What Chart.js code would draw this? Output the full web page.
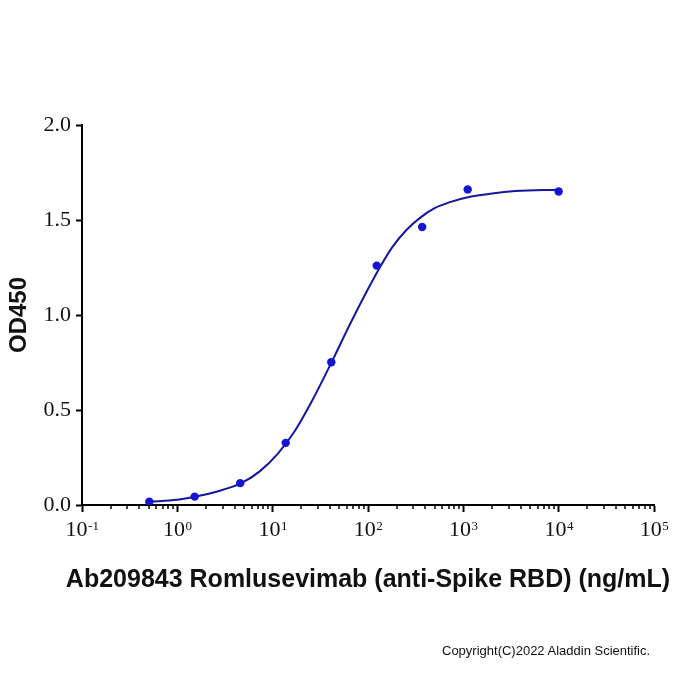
<!DOCTYPE html>
<html>
<head>
<meta charset="utf-8">
<script src="https://cdn.jsdelivr.net/npm/chart.js@4.4.1/dist/chart.umd.min.js"></script>
<style>
  html, body { margin: 0; padding: 0; background: #fff; }
  #wrap { position: relative; width: 700px; height: 700px; }
  #copy {
    position: absolute; left: 442px; top: 643px;
    font: 13px "Liberation Sans", Arial, sans-serif; line-height: 15px; color: #111;
  }
</style>
</head>
<body>
<div id="wrap">
  <canvas id="myChart" width="700" height="700"></canvas>
  <div id="copy">Copyright(C)2022 Aladdin Scientific.</div>
</div>
<script>
// measured points (ng/mL vs OD450)
var concValues = [0.508, 1.52, 4.57, 13.7, 41.2, 123.5, 370, 1111, 10000];
var odValues = [0.017, 0.044, 0.115, 0.327, 0.751, 1.26, 1.463, 1.661, 1.650];

// fitted curve
var curveX = [0.508, 1, 1.52, 2.57, 4.57, 7.31, 11.4, 17, 26, 41.2, 64.5, 96.6, 133, 180, 250, 351, 500, 724, 1175, 2000, 3500, 10000];
var curveY = [0.017, 0.028, 0.043, 0.070, 0.112, 0.177, 0.272, 0.388, 0.550, 0.748, 0.950, 1.122, 1.250, 1.357, 1.445, 1.511, 1.562, 1.594, 1.622, 1.640, 1.652, 1.659];

var xTicks = [0.1, 1, 10, 100, 1000, 10000, 100000];
var xTickExp = ['-1', '0', '1', '2', '3', '4', '5'];
var yTicks = [0, 0.5, 1.0, 1.5, 2.0];
var xTitle = 'Ab209843 Romlusevimab (anti-Spike RBD) (ng/mL)';

var serif = "'Liberation Serif', 'Times New Roman', serif";
var sans = "'Liberation Sans', Arial, sans-serif";

var points = [];
for (let i = 0; i < concValues.length; i++) {
  points.push({x: concValues[i], y: odValues[i]});
}
var curve = [];
for (let i = 0; i < curveX.length; i++) {
  curve.push({x: curveX[i], y: curveY[i]});
}

// minor ticks, power-of-ten labels and title of the log axis
const logAxisExtras = {
  id: 'logAxisExtras',
  afterDraw(chart) {
    const sc = chart.scales.x;
    const ctx = chart.ctx;
    const y0 = chart.chartArea.bottom;
    ctx.save();
    ctx.strokeStyle = '#000';
    ctx.lineWidth = 1.5;
    for (let n = -1; n < 5; n++) {
      for (let k = 2; k < 10; k++) {
        const px = Math.round(sc.getPixelForValue(k * Math.pow(10, n)));
        ctx.beginPath();
        ctx.moveTo(px, y0);
        ctx.lineTo(px, y0 + 4);
        ctx.stroke();
      }
    }
    ctx.fillStyle = '#111';
    ctx.textBaseline = 'alphabetic';
    ctx.textAlign = 'left';
    const base = y0 + 31;
    for (let i = 0; i < xTicks.length; i++) {
      const px = sc.getPixelForValue(xTicks[i]);
      ctx.font = '22px ' + serif;
      const w1 = ctx.measureText('10').width;
      ctx.font = '13px ' + serif;
      const w2 = ctx.measureText(xTickExp[i]).width;
      const x0 = px - (w1 + w2) / 2;
      ctx.font = '22px ' + serif;
      ctx.fillText('10', x0, base);
      ctx.font = '13px ' + serif;
      ctx.fillText(xTickExp[i], x0 + w1 + 0.5, base - 6);
    }
    ctx.font = 'bold 25px ' + sans;
    ctx.textAlign = 'center';
    ctx.textBaseline = 'middle';
    ctx.fillText(xTitle, (chart.chartArea.left + chart.chartArea.right) / 2, y0 + 75);
    ctx.restore();
  }
};

const ctx = document.getElementById('myChart');
const myChart = new Chart(ctx, {
  type: 'scatter',
  data: {
    datasets: [{
      data: points,
      order: 0,
      showLine: false,
      pointRadius: 4.2,
      pointBackgroundColor: '#1414d2',
      pointBorderColor: '#1414d2',
      pointBorderWidth: 0
    }, {
      data: curve,
      order: 1,
      showLine: true,
      pointRadius: 0,
      borderColor: '#16169a',
      borderWidth: 2,
      cubicInterpolationMode: 'monotone',
      fill: false
    }]
  },
  options: {
    responsive: false,
    animation: false,
    events: [],
    layout: { padding: { top: 125, right: 46, bottom: 95, left: 0 } },
    plugins: { legend: { display: false }, tooltip: { enabled: false } },
    scales: {
      x: {
        type: 'logarithmic',
        min: 0.1,
        max: 100000,
        afterBuildTicks: (scale) => { scale.ticks = xTicks.map(v => ({value: v})); },
        afterFit: (scale) => { scale.height = 100; },
        grid: { drawOnChartArea: false, tickLength: 7, tickWidth: 2, tickColor: '#000' },
        border: { color: '#000', width: 2 },
        ticks: { display: false },
        title: { display: false }
      },
      y: {
        min: 0,
        max: 2,
        afterBuildTicks: (scale) => { scale.ticks = yTicks.map(v => ({value: v})); },
        afterFit: (scale) => { scale.width = 82; },
        grid: { drawOnChartArea: false, tickLength: 6, tickWidth: 2, tickColor: '#000' },
        border: { color: '#000', width: 2 },
        ticks: {
          padding: 5,
          color: '#111',
          font: { family: serif, size: 22 },
          callback: (v) => v.toFixed(1)
        },
        title: {
          display: true,
          text: 'OD450',
          color: '#111',
          font: { family: sans, size: 24, weight: 'bold' },
          padding: { top: 5, bottom: 0 }
        }
      }
    }
  },
  plugins: [logAxisExtras]
});
</script>
</body>
</html>
